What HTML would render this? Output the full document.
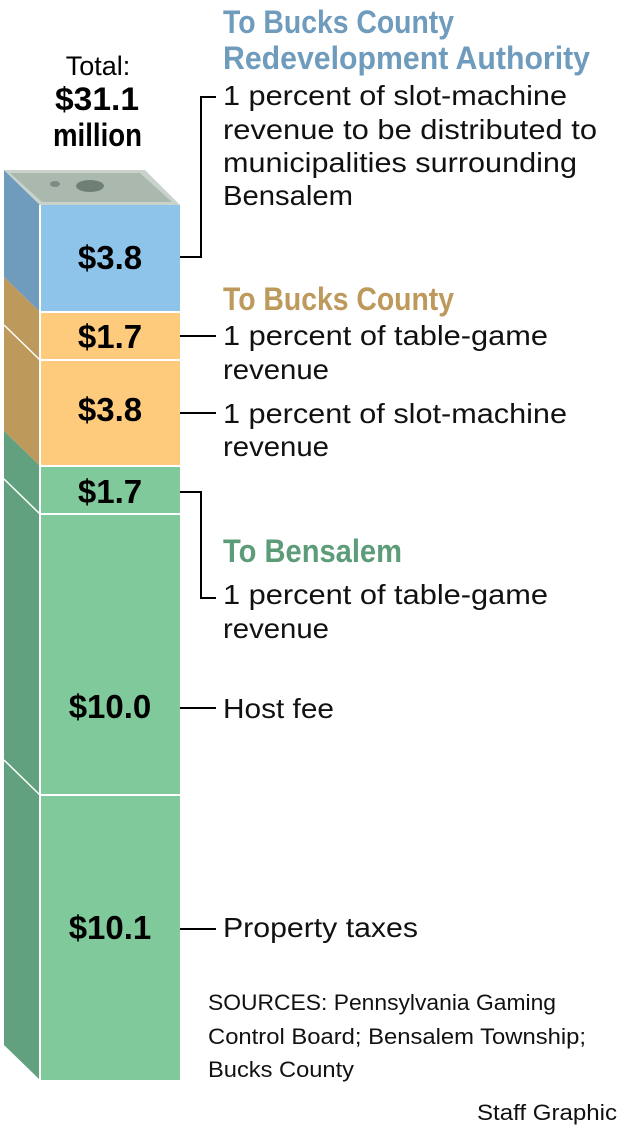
<!DOCTYPE html>
<html><head><meta charset="utf-8"><style>
body{margin:0;background:#fff}
svg{display:block}
.t{font-family:"Liberation Sans",sans-serif;font-weight:bold;font-size:32px}
.b{font-family:"Liberation Sans",sans-serif;font-size:28px;fill:#111}
.v{font-family:"Liberation Sans",sans-serif;font-weight:bold;font-size:33px;fill:#000;text-anchor:middle}
.s{font-family:"Liberation Sans",sans-serif;font-size:22px;fill:#111}
</style></head><body>
<svg width="625" height="1132" viewBox="0 0 625 1132" xmlns="http://www.w3.org/2000/svg">
<polygon points="4,170 40,205 40,312 4,277" fill="#6f9bbd"/>
<polygon points="4,277 40,312 40,466 4,431" fill="#bd9a5c"/>
<polygon points="4,431 40,466 40,1080 4,1045" fill="#62a17f"/>
<g stroke="#fff" stroke-width="1.5">
<line x1="4" y1="325" x2="40" y2="360"/>
<line x1="4" y1="479" x2="40" y2="514"/>
<line x1="4" y1="760" x2="40" y2="795"/>
</g>
<polygon points="4,170 145,170 180,205 40,205" fill="#c9d3cc"/>
<polygon points="10,173 140,173 172,202 42,202" fill="#aab8ae"/>
<ellipse cx="90" cy="186" rx="14" ry="6" fill="#6f7f76"/>
<ellipse cx="55" cy="184" rx="5" ry="3" fill="#7d8b83"/>
<rect x="40" y="205" width="140" height="107" fill="#8ec4ea"/>
<rect x="40" y="312" width="140" height="48" fill="#fecb7d"/>
<rect x="40" y="360" width="140" height="106" fill="#fecb7d"/>
<rect x="40" y="466" width="140" height="48" fill="#80c99b"/>
<rect x="40" y="514" width="140" height="281" fill="#80c99b"/>
<rect x="40" y="795" width="140" height="285" fill="#80c99b"/>
<g stroke="#fff" stroke-width="2">
<line x1="40" y1="312" x2="180" y2="312"/><line x1="40" y1="360" x2="180" y2="360"/>
<line x1="40" y1="466" x2="180" y2="466"/><line x1="40" y1="514" x2="180" y2="514"/>
<line x1="40" y1="795" x2="180" y2="795"/><line x1="40" y1="205" x2="40" y2="1080"/>
</g>
<text class="v" x="110" y="269">$3.8</text>
<text class="v" x="110" y="348">$1.7</text>
<text class="v" x="110" y="421">$3.8</text>
<text class="v" x="110" y="503">$1.7</text>
<text class="v" x="110" y="718">$10.0</text>
<text class="v" x="110" y="939">$10.1</text>
<text x="98" y="75" text-anchor="middle" style="font-family:'Liberation Sans',sans-serif;font-size:27px">Total:</text>
<text x="55" y="110" class="t" style="fill:#000" textLength="84" lengthAdjust="spacingAndGlyphs">$31.1</text>
<text x="53" y="146" class="t" style="fill:#000" textLength="89" lengthAdjust="spacingAndGlyphs">million</text>
<g stroke="#000" stroke-width="2" fill="none">
<polyline points="180,257 201,257 201,97 216,97"/>
<line x1="180" y1="336" x2="216" y2="336"/>
<line x1="180" y1="413" x2="216" y2="413"/>
<polyline points="180,492 201,492 201,598 216,598"/>
<line x1="180" y1="708" x2="216" y2="708"/>
<line x1="180" y1="929" x2="216" y2="929"/>
</g>
<g lengthAdjust="spacingAndGlyphs">
<text class="t" x="223" y="33" fill="#6f9bbd" textLength="231" lengthAdjust="spacingAndGlyphs">To Bucks County</text>
<text class="t" x="223" y="69" fill="#6f9bbd" textLength="367" lengthAdjust="spacingAndGlyphs">Redevelopment Authority</text>
<text class="b" x="223" y="105" textLength="344" lengthAdjust="spacingAndGlyphs">1 percent of slot-machine</text>
<text class="b" x="223" y="139" textLength="374" lengthAdjust="spacingAndGlyphs">revenue to be distributed to</text>
<text class="b" x="223" y="172" textLength="354" lengthAdjust="spacingAndGlyphs">municipalities surrounding</text>
<text class="b" x="223" y="205" textLength="130" lengthAdjust="spacingAndGlyphs">Bensalem</text>
<text class="t" x="223" y="310" fill="#bd9a5c" textLength="231" lengthAdjust="spacingAndGlyphs">To Bucks County</text>
<text class="b" x="223" y="345" textLength="325" lengthAdjust="spacingAndGlyphs">1 percent of table-game</text>
<text class="b" x="223" y="379" textLength="106" lengthAdjust="spacingAndGlyphs">revenue</text>
<text class="b" x="223" y="423" textLength="344" lengthAdjust="spacingAndGlyphs">1 percent of slot-machine</text>
<text class="b" x="223" y="456" textLength="106" lengthAdjust="spacingAndGlyphs">revenue</text>
<text class="t" x="223" y="562" fill="#5c9c78" textLength="179" lengthAdjust="spacingAndGlyphs">To Bensalem</text>
<text class="b" x="223" y="604" textLength="325" lengthAdjust="spacingAndGlyphs">1 percent of table-game</text>
<text class="b" x="223" y="638" textLength="106" lengthAdjust="spacingAndGlyphs">revenue</text>
<text class="b" x="223" y="718" textLength="111" lengthAdjust="spacingAndGlyphs">Host fee</text>
<text class="b" x="223" y="937" textLength="195" lengthAdjust="spacingAndGlyphs">Property taxes</text>
</g>
<text class="s" x="208" y="1010" textLength="348" lengthAdjust="spacingAndGlyphs">SOURCES: Pennsylvania Gaming</text>
<text class="s" x="208" y="1044" textLength="378" lengthAdjust="spacingAndGlyphs">Control Board; Bensalem Township;</text>
<text class="s" x="208" y="1077" textLength="146" lengthAdjust="spacingAndGlyphs">Bucks County</text>
<text class="s" x="477" y="1120" textLength="140" lengthAdjust="spacingAndGlyphs">Staff Graphic</text>
</svg>
</body></html>
